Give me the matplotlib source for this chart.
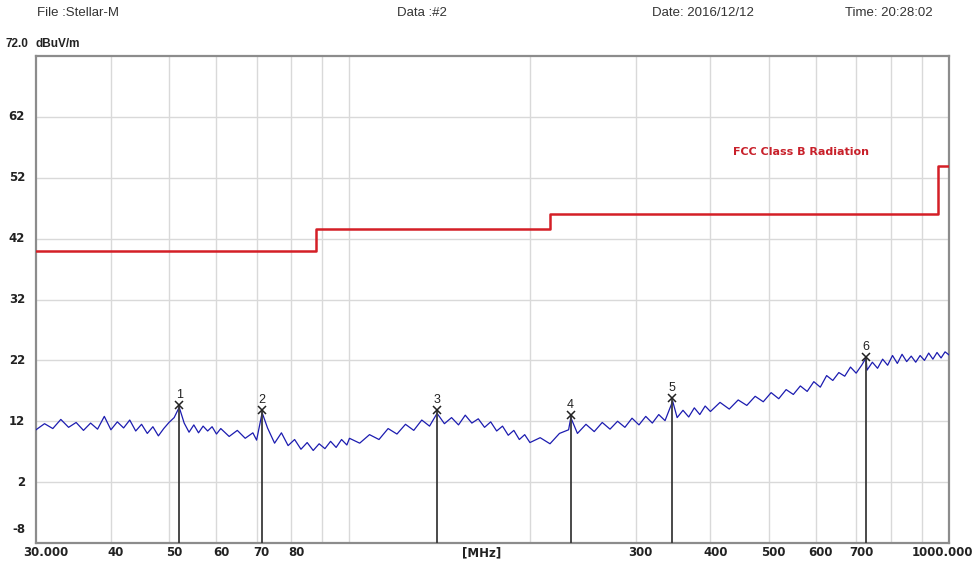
import matplotlib
matplotlib.use("Agg")
import matplotlib.pyplot as plt
import matplotlib.transforms as mtransforms

# ---------------- data ----------------
trace_freq = [30, 31, 32, 33, 34, 35, 36, 37, 38, 39, 40, 41, 42, 43, 44, 45, 46, 47, 48, 49,
              50, 51, 52, 53, 54, 55, 56, 57, 58, 59, 60,
              61, 63, 65, 67, 69, 70, 71.5, 73, 75, 77, 79, 81, 83, 85, 87, 89, 91, 93, 95, 97, 99,
              100, 104, 108, 112, 116, 120, 124, 128, 132, 136, 140, 144, 148, 152, 156, 160, 164,
              168, 172, 176, 180, 184, 188, 192, 196,
              200, 208, 216, 224, 232, 234, 240, 248, 256, 264, 272, 280, 288, 296, 304, 312, 320,
              328, 336, 346, 352, 360, 368, 376, 384, 392,
              400, 415, 430, 445, 460, 475, 490, 505, 520, 535, 550, 565, 580, 595, 610, 625, 640,
              655, 670, 685, 700, 715, 727, 730, 745, 760, 775, 790, 805, 820, 835, 850, 865, 880,
              895, 910, 925, 940, 955, 970, 985, 1000]
trace_level = [10.6, 11.6, 10.8, 12.3, 11.0, 11.8, 10.5, 11.7, 10.7, 12.8, 10.6, 11.9, 10.9, 12.2,
               10.4, 11.5, 10.0, 11.1, 9.6, 10.8,
               11.8, 12.6, 14.3, 11.7, 10.2, 11.4, 10.1, 11.2, 10.4, 11.1, 9.9,
               10.8, 9.5, 10.5, 9.2, 10.1, 8.9, 13.4, 10.9, 8.4, 10.1, 8.0, 9.0, 7.4, 8.5, 7.2, 8.3,
               7.5, 8.7, 7.7, 9.0, 8.1,
               9.2, 8.4, 9.8, 9.0, 10.8, 9.9, 11.5, 10.5, 12.2, 11.2, 13.3, 11.6, 12.6, 11.4, 13.0,
               11.7, 12.4, 11.0, 11.9, 10.4, 11.2, 9.7, 10.5, 9.0, 9.8,
               8.5, 9.3, 8.3, 10.0, 10.6, 12.6, 10.0, 11.5, 10.3, 11.8, 10.7, 12.0, 11.0, 12.5, 11.4,
               12.8, 11.7, 13.1, 12.1, 15.3, 12.6, 13.8, 12.7, 14.2, 13.1, 14.5,
               13.6, 15.1, 14.0, 15.5, 14.6, 16.1, 15.2, 16.7, 15.7, 17.2, 16.4, 17.8, 16.9, 18.5,
               17.6, 19.5, 18.7, 20.0, 19.4, 20.9, 19.9, 21.2, 22.4, 20.4, 21.7, 20.7, 22.2, 21.2,
               22.8, 21.5, 23.0, 21.8, 22.7, 21.7, 22.8, 22.0, 23.2, 22.2, 23.3, 22.4, 23.4, 22.9]

limit_freq = [30, 88, 88, 216, 216, 960, 960, 1000]
limit_level = [40, 40, 43.5, 43.5, 46, 46, 54, 54]

marker_ids = ["1", "2", "3", "4", "5", "6"]
marker_freq = [52.0, 71.5, 140.2, 233.8, 345.6, 727.0]
marker_level = [14.6, 13.8, 13.8, 13.0, 15.8, 22.6]

y_ticks = [2, 12, 22, 32, 42, 52, 62]
x_grid = [40, 50, 60, 70, 80, 90, 100, 200, 300, 400, 500, 600, 700, 800, 900]
x_label_pos = [40, 50, 60, 70, 80, 300, 400, 500, 600, 700]
x_label_txt = ["40", "50", "60", "70", "80", "300", "400", "500", "600", "700"]

# ---------------- figure ----------------
plt.rcParams['font.family'] = ['Liberation Sans', 'DejaVu Sans']
fig = plt.figure(figsize=(9.77, 5.65), dpi=100)
ax = fig.add_axes([36 / 977, 1 - 543 / 565, (949 - 36) / 977, (543 - 56) / 565])
ax.set_xscale('log')
ax.set_xlim(30, 1000)
ax.set_ylim(-8, 72)

grid_c = '#d9d9d9'
for g in x_grid:
    ax.axvline(g, color=grid_c, lw=1.0, zorder=0)
for g in y_ticks:
    ax.axhline(g, color=grid_c, lw=1.0, zorder=0)

ax.set_xticks([])
ax.set_yticks([])
ax.xaxis.set_minor_locator(matplotlib.ticker.NullLocator())
for s in ax.spines.values():
    s.set_color('#8c8c8c')
    s.set_linewidth(1.6)

# limit line
ax.plot(limit_freq, limit_level, color='#d41f26', lw=1.8, zorder=3)
ax.text(436, 56.3, "FCC Class B Radiation", color='#c8202a', fontsize=8,
        fontweight='bold', va='center', ha='left', family='DejaVu Sans')

# trace
ax.plot(trace_freq, trace_level, color='#1c1cb0', lw=0.9, zorder=4)

# markers
for mid, f, l in zip(marker_ids, marker_freq, marker_level):
    ax.plot([f, f], [-8, l], color='#3a3a3a', lw=1.3, zorder=5)
    ax.plot([f], [l], marker='x', color='#222222', ms=5.5, mew=1.1, zorder=6)
    ax.annotate(mid, (f, l), xytext=(0, 3), textcoords='offset points',
                ha='center', va='bottom', fontsize=9, color='#222222', zorder=6)

# y tick labels
tick_kw = dict(fontsize=8.5, fontweight='bold', color='#222222', family='DejaVu Sans')
for t in y_ticks:
    ax.text(-0.012, t, str(t), transform=ax.get_yaxis_transform(),
            ha='right', va='center', **tick_kw)
ax.text(-0.012, -8 + 2.2, "-8", transform=ax.get_yaxis_transform(),
        ha='right', va='center', **tick_kw)

# x tick labels
xt = mtransforms.offset_copy(ax.get_xaxis_transform(), fig=fig, x=5, y=-3, units='dots')
for p, t in zip(x_label_pos, x_label_txt):
    ax.text(p, 0, t, transform=xt, ha='center', va='top', **tick_kw)
xt_l = mtransforms.offset_copy(ax.get_xaxis_transform(), fig=fig, x=-13, y=-3, units='dots')
ax.text(30, 0, "30.000", transform=xt_l, ha='left', va='top', **tick_kw)
xt_r = mtransforms.offset_copy(ax.get_xaxis_transform(), fig=fig, x=24, y=-3, units='dots')
ax.text(1000, 0, "1000.000", transform=xt_r, ha='right', va='top', **tick_kw)
ax.text(163, 0, "[MHz]", transform=xt, ha='center', va='top', **tick_kw)

# header
hdr_kw = dict(fontsize=9.5, color='#333333', va='center')
fig.text(37 / 977, 1 - 13 / 565, "File :Stellar-M", ha='left', **hdr_kw)
fig.text(397 / 977, 1 - 13 / 565, "Data :#2", ha='left', **hdr_kw)
fig.text(652 / 977, 1 - 13 / 565, "Date: 2016/12/12", ha='left', **hdr_kw)
fig.text(845 / 977, 1 - 13 / 565, "Time: 20:28:02", ha='left', **hdr_kw)
fig.text(5 / 977, 1 - 44 / 565, "72.0", ha='left', fontsize=8.5, fontweight='bold',
         color='#222222', va='center', family='Liberation Sans')
fig.text(36 / 977, 1 - 44 / 565, "dBuV/m", ha='left', fontsize=8.5, fontweight='bold',
         color='#222222', va='center', family='Liberation Sans')

fig.savefig("out.png", dpi=100)
